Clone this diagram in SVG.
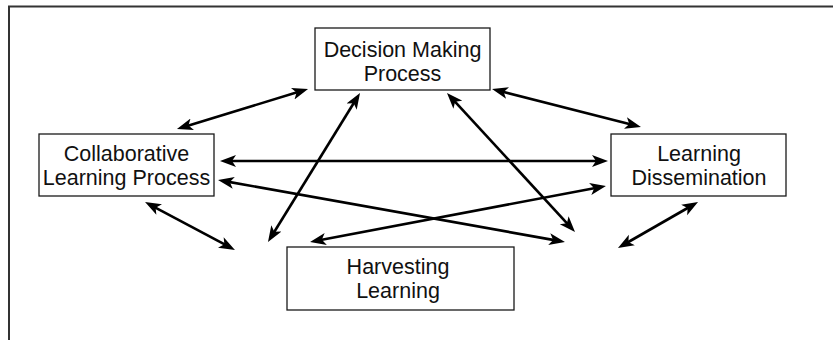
<svg xmlns="http://www.w3.org/2000/svg" width="833" height="340" viewBox="0 0 833 340">
  <style>
    .box rect { fill: #ffffff; stroke: #1a1a1a; stroke-width: 1.3; }
    .box text { font-family: "Liberation Sans", Arial, sans-serif; font-size: 21.5px; fill: #111111; text-anchor: middle; }
    .link { fill: none; stroke: #000000; stroke-width: 2.6; marker-start: url(#head); marker-end: url(#head); }
  </style>
  <defs>
    <!-- filled, slightly notched arrowhead; tip sits 8px past the line end -->
    <marker id="head" markerUnits="userSpaceOnUse" viewBox="0 -7 18 14" markerWidth="18" markerHeight="14" refX="8" refY="0" orient="auto-start-reverse">
      <path d="M16,0 L0,-6 L4,0 L0,6 Z" fill="#000000"/>
    </marker>
  </defs>

  <rect width="833" height="340" fill="#ffffff"/>
  <!-- frame -->
  <path d="M9,340 V6.5 H833" fill="none" stroke="#333333" stroke-width="2"/>

  <g id="connectors">
    <path class="link" d="M184.6,126.7 L300.4,91.3"/>
    <path class="link" d="M499.8,91.0 L633.2,125.0"/>
    <path class="link" d="M228,161 L600,161"/>
    <path class="link" d="M225.9,181.4 L557.1,240.6"/>
    <path class="link" d="M317.9,240.5 L598.1,187.5"/>
    <path class="link" d="M452.4,98.9 L569.6,226.1"/>
    <path class="link" d="M355.8,99.8 L272.2,235.2"/>
    <path class="link" d="M152.1,205.8 L227.9,246.2"/>
    <path class="link" d="M691.1,206.0 L624.9,244.0"/>
  </g>

  <g id="decision-making" class="box">
    <rect x="315" y="28" width="175" height="62"/>
    <text x="402.5" y="57">Decision Making</text>
    <text x="402.5" y="81">Process</text>
  </g>

  <g id="collaborative-learning" class="box">
    <rect x="39" y="134" width="175" height="62"/>
    <text x="126.5" y="161">Collaborative</text>
    <text x="126.5" y="185">Learning Process</text>
  </g>

  <g id="learning-dissemination" class="box">
    <rect x="611" y="134" width="175" height="62"/>
    <text x="699" y="161">Learning</text>
    <text x="699" y="185">Dissemination</text>
  </g>

  <g id="harvesting-learning" class="box">
    <rect x="287" y="247" width="227" height="63"/>
    <text x="398" y="274">Harvesting</text>
    <text x="398" y="298">Learning</text>
  </g>
</svg>
